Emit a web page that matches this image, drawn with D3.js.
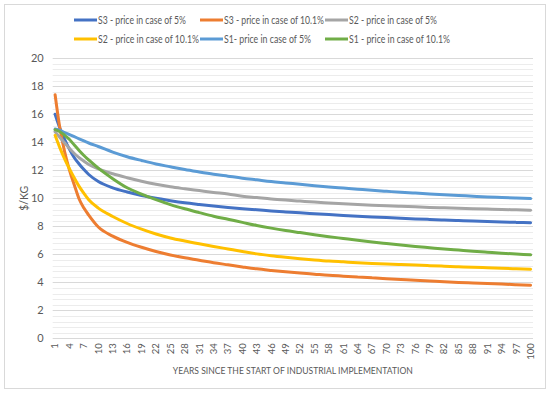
<!DOCTYPE html>
<html><head><meta charset="utf-8">
<script src="https://cdn.jsdelivr.net/npm/d3@7"></script>
<style>
html,body{margin:0;padding:0;background:#fff;}
svg{display:block;font-family:Lato,"Open Sans",sans-serif;}
</style></head><body>
<svg id="chart" width="550" height="394"></svg>
<script>
const years = [1,2,3,4,5,6,7,8,10,13,16,19,22,25,28,31,34,37,40,43,46,49,52,55,58,61,64,67,70,73,76,79,82,85,88,91,94,97,100];
const categories = d3.range(1, 101);
const xTickLabels = [1,4,7,10,13,16,19,22,25,28,31,34,37,40,43,46,49,52,55,58,61,64,67,70,73,76,79,82,85,88,91,94,97,100];
const yTickLabels = [0,2,4,6,8,10,12,14,16,18,20];

const seriesNames = ["S3 - price in case of 5%","S3 - price in case of 10.1%","S2 - price in case of 5%","S2 - price in case of 10.1%","S1- price in case of 5%","S1 - price in case of 10.1%"];
const seriesColors = ["#4472C4","#ED7D31","#A5A5A5","#FFC000","#5B9BD5","#70AD47"];

const s3_5  = [16.0,15.0,14.2,13.5,12.9,12.45,12.05,11.7,11.2,10.75,10.45,10.2,10.0,9.83,9.68,9.56,9.45,9.35,9.26,9.18,9.1,9.03,8.96,8.9,8.84,8.78,8.72,8.67,8.62,8.57,8.53,8.49,8.45,8.41,8.37,8.34,8.31,8.28,8.25];
const s3_10 = [17.4,15.0,13.3,12.0,10.95,9.95,9.3,8.8,7.95,7.3,6.85,6.5,6.2,5.95,5.75,5.58,5.4,5.25,5.1,4.96,4.85,4.75,4.66,4.58,4.5,4.44,4.38,4.32,4.26,4.2,4.14,4.09,4.04,3.99,3.95,3.91,3.87,3.83,3.79];
const s2_5  = [14.75,14.35,13.95,13.55,13.2,12.9,12.65,12.42,12.1,11.75,11.47,11.22,11.0,10.82,10.68,10.55,10.42,10.3,10.15,10.05,9.95,9.87,9.8,9.73,9.67,9.61,9.56,9.51,9.47,9.43,9.39,9.35,9.32,9.29,9.26,9.23,9.2,9.18,9.15];
const s2_10 = [14.5,13.6,12.8,12.1,11.45,10.85,10.35,9.9,9.3,8.7,8.2,7.8,7.45,7.17,6.95,6.75,6.56,6.38,6.2,6.03,5.9,5.79,5.69,5.6,5.52,5.46,5.4,5.35,5.31,5.27,5.23,5.19,5.15,5.11,5.07,5.04,5.0,4.97,4.94];
const s1_5  = [14.95,14.85,14.7,14.55,14.4,14.25,14.1,13.95,13.7,13.3,12.97,12.7,12.45,12.25,12.05,11.88,11.72,11.58,11.44,11.32,11.2,11.1,11.0,10.9,10.81,10.73,10.65,10.57,10.5,10.43,10.37,10.31,10.25,10.2,10.15,10.1,10.06,10.02,9.98];
const s1_10 = [14.9,14.75,14.5,14.2,13.8,13.42,13.06,12.74,12.15,11.4,10.75,10.3,9.9,9.55,9.25,8.98,8.72,8.5,8.28,8.06,7.87,7.7,7.55,7.4,7.26,7.13,7.0,6.88,6.77,6.66,6.56,6.47,6.38,6.3,6.22,6.15,6.08,6.02,5.96];

const seriesValues = [s3_5, s3_10, s2_5, s2_10, s1_5, s1_10];

const svg = d3.select("#chart");
const plot = {left: 52.7, right: 533, top: 58.3, bottom: 338.3};

// outer frame
svg.append("rect").attr("x",4.5).attr("y",4.5).attr("width",541).attr("height",384)
  .attr("fill","#fff").attr("stroke","#d9d9d9").attr("stroke-width",1);

const x = d3.scaleBand().domain(categories).range([plot.left, plot.right]).paddingInner(0).paddingOuter(0);
const xc = d => x(d) + x.bandwidth()/2;
const y = d3.scaleLinear().domain([0,20]).range([plot.bottom, plot.top]);

// minor gridlines
const minor = d3.range(0, 20.001, 0.4).filter(v => Math.abs(v/2 - Math.round(v/2)) > 1e-6);
svg.append("g").selectAll("line").data(minor).join("line")
  .attr("x1", plot.left).attr("x2", plot.right)
  .attr("y1", d => Math.round(y(d))+0.5).attr("y2", d => Math.round(y(d))+0.5)
  .attr("stroke","#ececec").attr("stroke-width",1);
// major gridlines
svg.append("g").selectAll("line").data(yTickLabels).join("line")
  .attr("x1", plot.left).attr("x2", plot.right)
  .attr("y1", d => Math.round(y(d))+0.5).attr("y2", d => Math.round(y(d))+0.5)
  .attr("stroke","#d9d9d9").attr("stroke-width",1);

// y axis
const yAxis = svg.append("g").attr("transform",`translate(${plot.left-9},0)`)
  .call(d3.axisLeft(y).tickValues(yTickLabels).tickSize(0).tickPadding(0));
yAxis.select(".domain").remove();
yAxis.selectAll("text").attr("fill","#595959").style("font-size","11px").style("font-family","Lato, sans-serif");

// x axis
const xAxis = svg.append("g").attr("transform",`translate(0,${plot.bottom})`)
  .call(d3.axisBottom(x).tickValues(xTickLabels).tickSize(0));
xAxis.select(".domain").remove();
xAxis.selectAll("text")
  .attr("fill","#595959").style("font-size","9.5px").style("font-family","Lato, sans-serif")
  .attr("transform","rotate(-90)").attr("text-anchor","end")
  .attr("x",-5).attr("y",0).attr("dy","0.35em");

// axis titles
svg.append("text").attr("transform",`translate(28,${(plot.top+plot.bottom)/2}) rotate(-90)`)
  .attr("text-anchor","middle").attr("fill","#595959").style("font-size","10.5px").text("$/KG");
svg.append("text").attr("x",(plot.left+plot.right)/2).attr("y",374)
  .attr("text-anchor","middle").attr("fill","#595959").style("font-size","10px")
  .attr("textLength",240).attr("lengthAdjust","spacingAndGlyphs")
  .text("YEARS SINCE THE START OF INDUSTRIAL IMPLEMENTATION");

// lines
const line = d3.line().x(d => xc(d[0])).y(d => y(d[1])).curve(d3.curveMonotoneX);
seriesValues.forEach((vals, i) => {
  svg.append("path").datum(years.map((yr, j) => [yr, vals[j]]))
    .attr("d", line).attr("fill","none").attr("stroke", seriesColors[i])
    .attr("stroke-width",3).attr("stroke-linecap","round");
});

// legend
const legX = [74, 200, 325], legY = [20, 39];
const legW = [88, 100, 88, 101, 87, 101];
seriesNames.forEach((name, i) => {
  const cx = legX[i % 3], cy = legY[Math.floor(i / 3)];
  svg.append("line").attr("x1",cx).attr("x2",cx+23).attr("y1",cy).attr("y2",cy)
    .attr("stroke",seriesColors[i]).attr("stroke-width",3);
  svg.append("text").attr("x",cx+24).attr("y",cy).attr("dy","0.35em")
    .attr("fill","#595959").style("font-size","10.5px")
    .attr("textLength",legW[i]).attr("lengthAdjust","spacingAndGlyphs")
    .text(name);
});
</script>
</body></html>
